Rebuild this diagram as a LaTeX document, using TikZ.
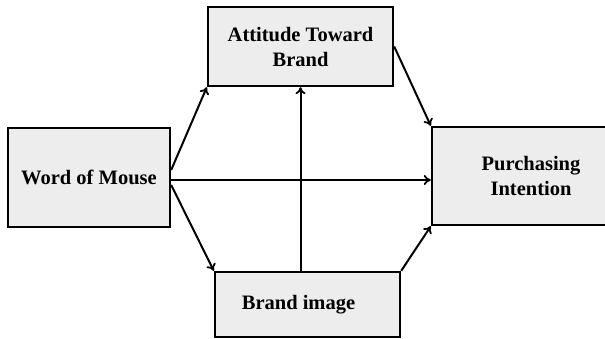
\documentclass[tikz,border=0pt]{standalone}
\usepackage{fontspec}
\setmainfont{Liberation Serif}
\usetikzlibrary{arrows.meta}
\begin{document}
\begin{tikzpicture}[x=1pt,y=-1pt,
  box/.style={draw=black, line width=2.4pt, fill=black!7, inner sep=0pt, align=center,
    font=\fontsize{20.5}{25}\selectfont\bfseries},
  arr/.style={line width=2pt, -{To[length=7pt,width=10pt,line width=1.8pt]}}]
\useasboundingbox (0,0) rectangle (605,339);
\clip (0,0) rectangle (605,339);
\node[box, minimum width=185pt, minimum height=79pt] (att) at (300.5,46.5) {Attitude Toward\\Brand};
\node[box, minimum width=162pt, minimum height=99pt] (wom) at (89,177.5) {Word of Mouse};
\node[box, minimum width=198pt, minimum height=98pt] (purch) at (531,176) {Purchasing\\Intention};
\node[box, minimum width=185pt, minimum height=65pt] (brand) at (307.5,304.5) {Brand image\hspace*{18pt}};
\draw[arr] ([yshift=7.5pt]wom.east) -- (att.south west);
\draw[arr] ([yshift=-2.5pt]wom.east) -- ([yshift=-2.5pt]wom.east -| purch.west);
\draw[arr] ([yshift=-7.5pt]wom.east) -- (brand.north west);
\draw[arr] (brand.north -| att.south) -- (att.south);
\draw[arr] (att.east) -- (purch.north west);
\draw[arr] (brand.north east) -- (purch.south west);
\end{tikzpicture}
\end{document}
